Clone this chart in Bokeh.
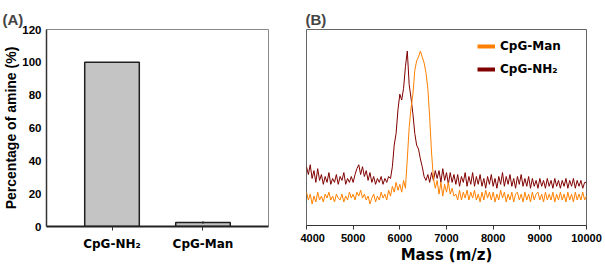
from bokeh.plotting import figure
from bokeh.layouts import row
from bokeh.models import FactorRange, Range1d, Legend, LegendItem
from bokeh.embed import file_html
from bokeh.resources import INLINE

# ---------------- data ----------------
categories = ["CpG-NH₂", "CpG-Man"]
amine_pct = [100, 2.4]
amine_err = [0, 0.8]
amine_ticks = [0, 20, 40, 60, 80, 100, 120]

mass_ticks = [4000, 5000, 6000, 7000, 8000, 9000, 10000]
mass = list(range(4000, 10001, 40))

int_nh2 = [
    30, 26, 31, 24, 28, 22, 29, 23, 26, 21,
    25, 22, 27, 21, 24, 22, 26, 21, 25, 23,
    27, 21, 24, 22, 25, 22, 26, 29, 31, 26,
    30, 25, 28, 23, 27, 22, 25, 21, 24, 22,
    25, 21, 24, 22, 25, 24, 30, 41, 47, 59,
    67, 64, 70, 81, 89, 72, 65, 57, 47, 41,
    39, 34, 30, 25, 23, 26, 22, 27, 23, 28,
    24, 28, 22, 29, 23, 27, 21, 27, 22, 26,
    21, 26, 20, 25, 22, 27, 20, 25, 21, 27,
    20, 25, 21, 26, 20, 24, 19, 25, 21, 26,
    20, 24, 19, 25, 21, 27, 20, 25, 21, 26,
    20, 24, 19, 25, 21, 26, 20, 24, 20, 25,
    19, 24, 20, 23, 19, 24, 20, 23, 19, 24,
    20, 23, 19, 24, 20, 23, 19, 23, 20, 24,
    19, 23, 20, 24, 19, 23, 20, 23, 19, 22,
    22,
]

int_man = [
    17, 13, 16, 11, 15, 12, 17, 13, 15, 12,
    16, 14, 17, 13, 15, 12, 16, 14, 13, 16,
    12, 15, 13, 17, 14, 16, 13, 17, 15, 18,
    14, 16, 13, 15, 11, 14, 16, 12, 15, 13,
    17, 14, 16, 13, 18, 15, 20, 17, 22, 18,
    21, 17, 23, 19, 34, 50, 60, 67, 79, 84,
    86, 89, 86, 83, 78, 70, 55, 37, 24, 19,
    23, 16, 22, 15, 21, 17, 22, 16, 19, 15,
    16, 13, 18, 13, 17, 14, 18, 13, 17, 14,
    18, 13, 16, 12, 17, 13, 18, 14, 17, 13,
    17, 12, 16, 13, 18, 14, 17, 12, 16, 13,
    17, 12, 16, 17, 13, 16, 12, 17, 13, 16,
    12, 17, 13, 16, 17, 13, 16, 12, 17, 13,
    16, 13, 17, 12, 16, 13, 17, 13, 16, 12,
    17, 13, 16, 12, 17, 13, 16, 13, 17, 13,
    15,
]

err_lo = [v - e for v, e in zip(amine_pct, amine_err)]
err_hi = [v + e for v, e in zip(amine_pct, amine_err)]
legend_stub_x = mass[:1]
legend_stub_y = [float("nan")]

# ---------------- panel A ----------------
pA = figure(frame_width=222, frame_height=197, output_backend="svg", toolbar_location=None,
            x_range=FactorRange(*categories, range_padding=0.22, range_padding_units="absolute"),
            y_range=Range1d(0, 120),
            min_border_left=46, min_border_right=32, min_border_top=29, min_border_bottom=40)
pA.title.text = "(A)"
pA.title.text_font = "Liberation Sans"
pA.title.text_font_size = "15px"
pA.title.text_font_style = "bold"
pA.title.offset = -44
pA.title.standoff = 0
pA.title.vertical_align = "top"

pA.vbar(x=categories, top=amine_pct, width=0.6, fill_color="#c4c4c4",
        line_color="#202020", line_width=1.5)
pA.segment(x0=categories, y0=err_lo, x1=categories, y1=err_hi, line_color="#202020", line_width=1)

pA.grid.grid_line_color = None
pA.outline_line_color = "#888888"

ya = pA.yaxis[0]
ya.ticker = amine_ticks
ya.major_tick_out = 0
ya.major_tick_in = 0
ya.major_tick_line_color = None
ya.minor_tick_line_color = None
ya.axis_line_color = "#333333"
ya.axis_line_width = 1.5
ya.major_label_text_font = "Liberation Sans"
ya.major_label_text_font_style = "bold"
ya.major_label_text_font_size = "11.5px"
ya.major_label_text_color = "black"
ya.major_label_standoff = 5
ya.axis_label = "Percentage of amine (%)"
ya.axis_label_text_font = "Liberation Sans"
ya.axis_label_text_font_style = "bold"
ya.axis_label_text_font_size = "14px"
ya.axis_label_text_color = "black"
ya.axis_label_standoff = 0

xa = pA.xaxis[0]
xa.major_tick_out = 4
xa.major_tick_in = 0
xa.major_tick_line_color = "#333333"
xa.axis_line_color = "#222222"
xa.axis_line_width = 2
xa.major_label_text_font = "DejaVu Sans"
xa.major_label_text_font_style = "bold"
xa.major_label_text_font_size = "12px"
xa.major_label_text_color = "black"
xa.major_label_standoff = 6

# ---------------- panel B ----------------
pB = figure(frame_width=280, frame_height=196, output_backend="svg", toolbar_location=None,
            x_range=Range1d(4000, 10000), y_range=Range1d(0, 100),
            min_border_left=6, min_border_right=19, min_border_top=24, min_border_bottom=46)
pB.title.text = "(B)"
pB.title.text_font = "Liberation Sans"
pB.title.text_font_size = "15px"
pB.title.text_font_style = "bold"
pB.title.offset = -1
pB.title.standoff = 0
pB.title.vertical_align = "top"

r_nh2 = pB.line(mass, int_nh2, line_color="#800000", line_width=1)
r_man = pB.line(mass, int_man, line_color="#ff8000", line_width=1)
leg_man = pB.line(legend_stub_x, legend_stub_y, line_color="#ff8000", line_width=4)
leg_nh2 = pB.line(legend_stub_x, legend_stub_y, line_color="#800000", line_width=4)

pB.grid.grid_line_color = None
pB.outline_line_color = "#666666"
pB.yaxis.visible = False

xb = pB.xaxis[0]
xb.ticker = mass_ticks
xb.major_tick_out = 4
xb.major_tick_in = 0
xb.minor_tick_line_color = None
xb.major_tick_line_color = "#333333"
xb.axis_line_color = "#333333"
xb.major_label_text_font = "Liberation Sans"
xb.major_label_text_font_style = "bold"
xb.major_label_text_font_size = "11px"
xb.major_label_text_color = "black"
xb.major_label_standoff = 4
xb.axis_label = "Mass (m/z)"
xb.axis_label_text_font = "DejaVu Sans"
xb.axis_label_text_font_style = "bold"
xb.axis_label_text_font_size = "15px"
xb.axis_label_text_color = "black"
xb.axis_label_standoff = 1

legend = Legend(items=[LegendItem(label="CpG-Man", renderers=[leg_man]),
                       LegendItem(label="CpG-NH₂", renderers=[leg_nh2])],
                location=(171, 146), padding=0, margin=0, spacing=3,
                glyph_width=18, glyph_height=20, label_height=20, label_standoff=5,
                border_line_color=None, background_fill_alpha=0,
                label_text_font="DejaVu Sans", label_text_font_style="bold",
                label_text_font_size="12px", label_text_color="black")
pB.add_layout(legend, "center")

layout = row(pA, pB)
open("out.html", "w").write(file_html(layout, INLINE))
